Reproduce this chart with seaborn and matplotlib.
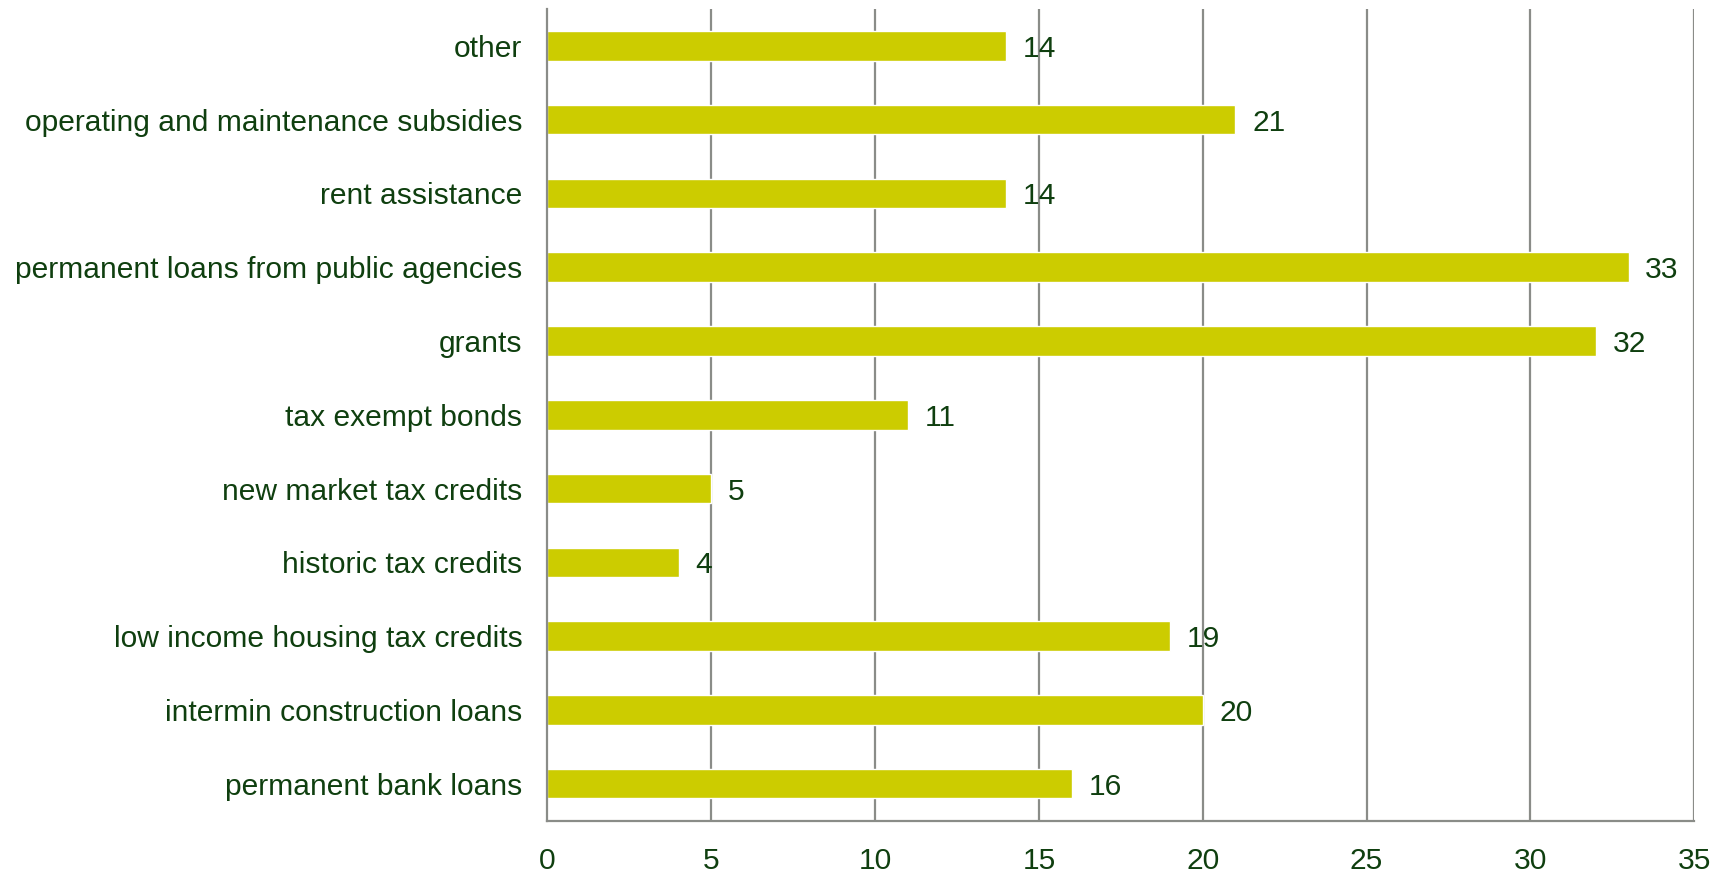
import matplotlib
matplotlib.use("Agg")
import matplotlib.pyplot as plt
import seaborn as sns
import pandas as pd

categories = [
    "other",
    "operating and maintenance subsidies",
    "rent assistance",
    "permanent loans from public agencies",
    "grants",
    "tax exempt bonds",
    "new market tax credits",
    "historic tax credits",
    "low income housing tax credits",
    "intermin construction loans",
    "permanent bank loans",
]
values = [14, 21, 14, 33, 32, 11, 5, 4, 19, 20, 16]
x_ticks = [0, 5, 10, 15, 20, 25, 30, 35]

sns.set_theme(style="white")
plt.rcParams['font.family'] = ['Liberation Sans', 'DejaVu Sans']

TEXT = "#0f3f0f"
GRID = "#8a8c88"
BAR = "#cccc00"
FS = 21.6

df = pd.DataFrame({"category": categories, "value": values})

fig = plt.figure(figsize=(17.27, 8.77), dpi=100)
ax = fig.add_axes([0.317, 0.0644, 0.664, 0.9253])
sns.barplot(data=df, x="value", y="category", orient="h", color=BAR,
            width=0.4, saturation=1, ax=ax, zorder=2)

ax.set_xlim(0, 35)
ax.set_ylim(len(categories) - 0.5, -0.5)
ax.set_xticks(x_ticks)
ax.set_xticklabels([str(t) for t in x_ticks])
ax.set_xlabel("")
ax.set_ylabel("")

for x in x_ticks[1:]:
    ax.axvline(x, color=GRID, lw=1.6, zorder=1)

for s in ["top", "right"]:
    ax.spines[s].set_visible(False)
for s in ["left", "bottom"]:
    ax.spines[s].set_color(GRID)
    ax.spines[s].set_linewidth(1.6)

ax.set_yticks(range(len(categories)))
ax.set_yticklabels(categories)
ax.tick_params(axis="y", length=0, pad=18, labelsize=FS, labelcolor=TEXT)
ax.set_yticks([i - 0.5 for i in range(len(categories) + 1)], minor=True)
ax.tick_params(axis="y", which="minor", length=8, width=1.6, color=GRID, direction="out")
ax.tick_params(axis="x", length=8, width=1.6, color=GRID, direction="out",
               pad=11, labelsize=FS, labelcolor=TEXT)

for i, v in enumerate(values):
    ax.annotate(str(v), xy=(v, i), xytext=(12, 0), textcoords="offset points",
                va="center_baseline", ha="left", fontsize=FS, color=TEXT, zorder=3)

fig.savefig("out.png", dpi=100)
